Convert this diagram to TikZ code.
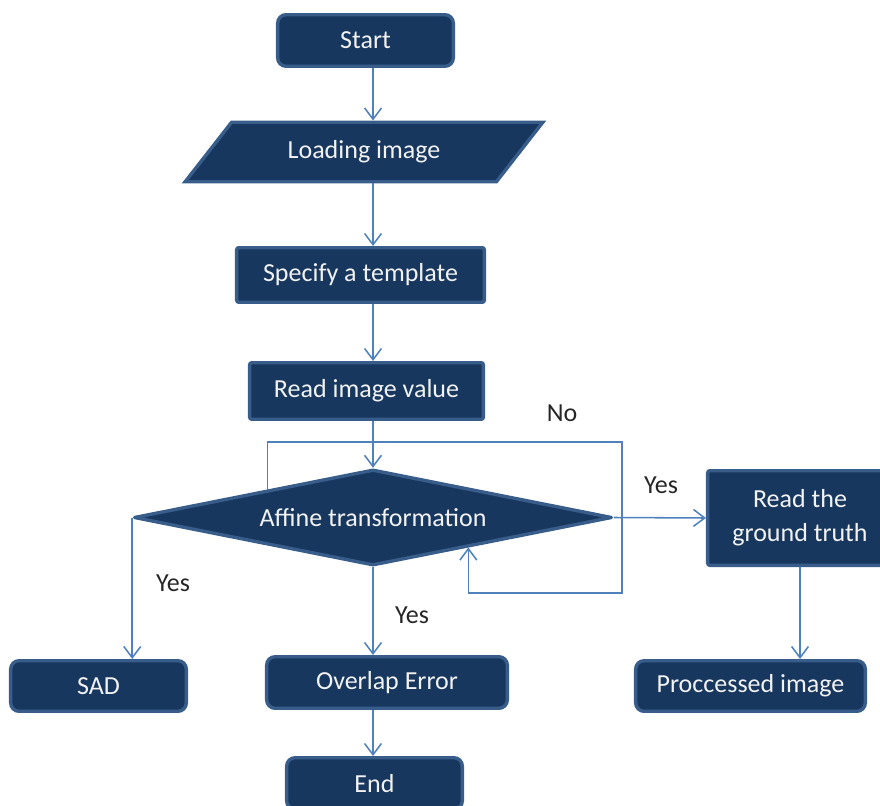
\documentclass[tikz,border=0pt]{standalone}
\usepackage{fontspec}
\setmainfont{Carlito}
\usetikzlibrary{shapes.geometric,arrows.meta,positioning,calc}
\definecolor{fcfill}{RGB}{23,55,94}
\definecolor{fcedge}{RGB}{56,93,138}
\definecolor{fcline}{RGB}{79,129,189}
\definecolor{fctext}{RGB}{242,242,242}

\begin{document}
\begin{tikzpicture}[x=0.025cm, y=-0.025cm,
    box/.style={rectangle, draw=fcedge, line width=2.4pt, fill=fcfill, text=fctext,
        rounded corners=1.5pt, inner sep=0pt, align=center,
        font=\fontsize{18.5}{24}\selectfont},
    term/.style={box, rounded corners=6pt},
    flow/.style={draw=fcline, line width=1.1pt, -{Straight Barb[length=8pt,width=12pt]}},
    lbl/.style={text=black!85, font=\fontsize{18.5}{24}\selectfont}]
    \useasboundingbox (0,0) rectangle (880,806);

    % Main column
    \node[term, minimum width=4.39cm, minimum height=1.29cm] (start) at (365.5,40.5) {Start};
    \node[box, trapezium, trapezium left angle=40, trapezium right angle=140, trapezium stretches=true,
          rounded corners=0pt, minimum width=8.95cm, minimum height=1.49cm] (load) at (364,152) {Loading image};
    \node[box, minimum width=6.19cm, minimum height=1.365cm] (spec) at (360.5,275) {Specify a template};
    \node[box, minimum width=5.84cm, minimum height=1.415cm] (readval) at (366.5,391) {Read image value};
    \node[box, diamond, aspect=4.98, rounded corners=0pt, line join=round,
          minimum width=11.95cm, minimum height=2.4cm] (affine) at (373,517.5) {Affine transformation};

    % Outputs
    \node[box, minimum width=4.615cm, minimum height=2.365cm] (truth) at (800,518) {Read the\\ground truth};
    \node[term, minimum width=4.39cm, minimum height=1.265cm] (sad) at (98.5,686) {SAD};
    \node[term, minimum width=6.015cm, minimum height=1.29cm] (overlap) at (387,682.5) {Overlap Error};
    \node[term, minimum width=5.74cm, minimum height=1.265cm] (proc) at (750.5,686) {Proccessed image};
    \node[term, minimum width=4.39cm, minimum height=1.29cm] (end) at (374.5,783.5) {End};

    % Labels
    \node[lbl] (no) at (562,413) {No};
    \node[lbl] (yesR) at (661,485) {Yes};
    \node[lbl] (yesL) at (173,583) {Yes};
    \node[lbl] (yesD) at (412,615) {Yes};

    % Connectors
    \draw[flow] (start.south -| affine.north) -- (load.north -| affine.north);
    \draw[flow] (load.south -| affine.north) -- (spec.north -| affine.north);
    \draw[flow] (spec.south -| affine.north) -- (readval.north -| affine.north);
    \draw[flow] (readval.south -| affine.north) -- (affine.north);
    \draw[flow] (affine.east) -- (truth.west);
    \draw[flow] (affine.west) -- (affine.west |- sad.north);
    \draw[flow] (affine.south) -- (affine.south |- overlap.north);
    \draw[flow] (truth.south) -- (truth.south |- proc.north);
    \draw[flow] (overlap.south -| affine.south) -- (end.north -| affine.south);

    % No loop
    \coordinate (loopA) at ($(affine.west)!0.5625!(affine.north)$);
    \coordinate (loopB) at ($(affine.east)!0.604!(affine.south)$);
    \coordinate (noTR) at (622,442);
    \coordinate (noBR) at (622,593);
    \draw[flow] (loopA) |- (noTR) -- (noBR) -| (loopB);
\end{tikzpicture}
\end{document}
